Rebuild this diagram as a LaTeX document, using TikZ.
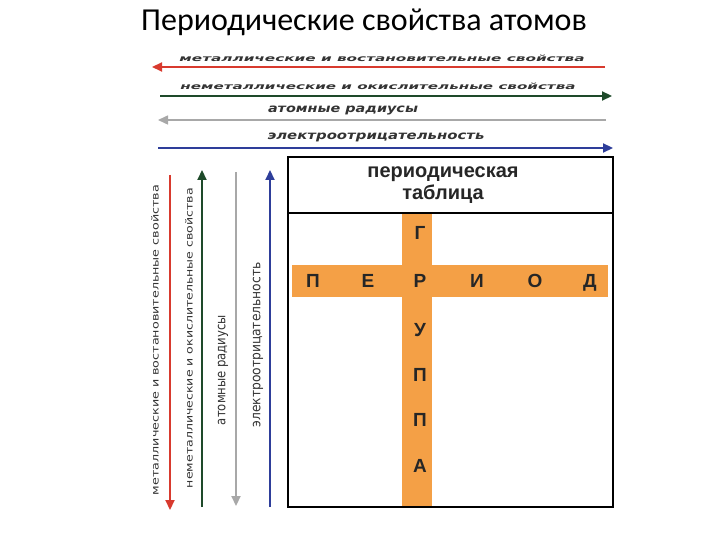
\documentclass[tikz,border=0pt]{standalone}
\usepackage{fontspec}
\setmainfont{Liberation Sans}
\newfontfamily\titlefont{Carlito}
\newfontfamily\lblfont{DejaVu Sans}
\usetikzlibrary{arrows.meta}
\definecolor{ared}{HTML}{D83A2E}
\definecolor{agreen}{HTML}{1E4A2A}
\definecolor{agray}{HTML}{A8A8A8}
\definecolor{ablue}{HTML}{2E3E9A}
\definecolor{aorange}{HTML}{F4A046}
\newcommand{\hl}[2]{\resizebox{#1}{6.5pt}{\lblfont\bfseries\itshape #2}}
\newcommand{\vl}[2]{\resizebox{#1}{7.5pt}{\lblfont #2}}
\begin{document}
\begin{tikzpicture}[x=1pt,y=-1pt,
  arr/.style={line width=2.2pt,-{Triangle[length=10pt,width=9pt]}},
  lab/.style={inner sep=1pt, text=black!80},
  vlab/.style={inner sep=1pt, rotate=90, text=black!80},
  letter/.style={font=\fontsize{19}{21}\selectfont\bfseries, text=black!85, text height=13.5pt, text depth=0pt}]
\useasboundingbox (0,0) rectangle (720,540);
\node[font=\titlefont\fontsize{32}{36}\selectfont] (title) at (364,22) {Периодические свойства атомов};
% horizontal arrows
\coordinate (h1a) at (605,67); \coordinate (h1b) at (152,67);
\draw[arr,ared] (h1a) -- (h1b);
\node[lab] (l1) at (382,58) {\hl{405pt}{металлические и востановительные свойства}};
\coordinate (h2a) at (160,96); \coordinate (h2b) at (612,96);
\draw[arr,agreen] (h2a) -- (h2b);
\node[lab] (l2) at (378,86) {\hl{395pt}{неметаллические и окислительные свойства}};
\coordinate (h3a) at (606,120); \coordinate (h3b) at (158,120);
\draw[arr,agray,line width=1.5pt] (h3a) -- (h3b);
\node[lab] (l3) at (343,111) {\hl{150pt}{атомные радиусы}};
\coordinate (h4a) at (158,148); \coordinate (h4b) at (613,148);
\draw[arr,ablue] (h4a) -- (h4b);
\node[lab] (l4) at (376,137) {\hl{217pt}{электроотрицательность}};
% vertical arrows
\coordinate (v1a) at (170,175); \coordinate (v1b) at (170,510);
\draw[arr,ared] (v1a) -- (v1b);
\node[vlab] (m1) at (155,340) {\vl{310pt}{металлические и востановительные свойства}};
\coordinate (v2a) at (202,507); \coordinate (v2b) at (202,170);
\draw[arr,agreen] (v2a) -- (v2b);
\node[vlab] (m2) at (189,338) {\vl{300pt}{неметаллические и окислительные свойства}};
\coordinate (v3a) at (236,172); \coordinate (v3b) at (236,506);
\draw[arr,agray] (v3a) -- (v3b);
\node[vlab] (m3) at (223,370) {\vl{110pt}{атомные радиусы}};
\coordinate (v4a) at (270,507); \coordinate (v4b) at (270,170);
\draw[arr,ablue] (v4a) -- (v4b);
\node[vlab] (m4) at (258,345) {\vl{165pt}{электроотрицательность}};
% table
\fill[aorange] (402,213) rectangle (432,507);
\fill[aorange] (292,265) rectangle (608,297);
\draw[line width=2.5pt] (288,157) rectangle (613,507);
\draw[line width=2.5pt] (288,213) -- (613,213);
\node[font=\fontsize{20}{22}\selectfont\bfseries,align=center,text=black!85] (tt) at (443,185) {периодическая\\таблица};
\foreach \x/\c [count=\i] in {313/П,368/Е,420/Р,477/И,535/О,590/Д} \node[letter] (p\i) at (\x,281) {\c};
\foreach \y/\c [count=\i] in {233/Г,330/У,375/П,420/П,466/А} \node[letter] (g\i) at (420,\y) {\c};
\end{tikzpicture}
\end{document}
